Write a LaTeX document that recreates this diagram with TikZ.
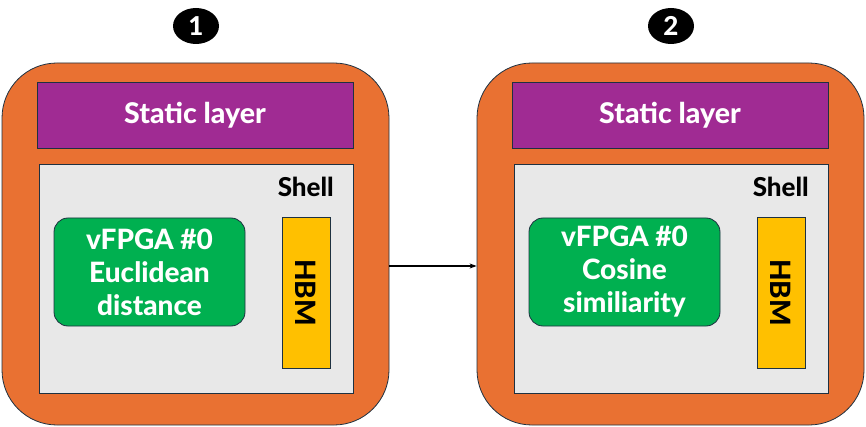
\documentclass[tikz,border=0pt]{standalone}
\usepackage{fontspec}
\setmainfont{Lato}[BoldFont={Lato Heavy}]
\usetikzlibrary{arrows.meta,shapes.geometric}
\definecolor{fpgaorange}{HTML}{E97132}
\definecolor{staticpurple}{HTML}{A02B93}
\definecolor{vfpgagreen}{HTML}{00B050}
\definecolor{hbmyellow}{HTML}{FFC000}
\definecolor{shellgray}{HTML}{E8E8E8}
\definecolor{edgeblue}{HTML}{1E3141}
\begin{document}
\begin{tikzpicture}[x=1pt, y=-1pt,
  fpga/.style={draw=edgeblue, line width=0.8pt, fill=fpgaorange, rounded corners=55pt, minimum width=387pt, minimum height=362pt, inner sep=0pt},
  staticbox/.style={draw=edgeblue, line width=0.8pt, fill=staticpurple, minimum width=316pt, minimum height=66pt, inner sep=0pt, text=white, font=\fontsize{28.5}{30}\selectfont\bfseries},
  shellbox/.style={draw=edgeblue, line width=0.8pt, fill=shellgray, minimum width=314pt, minimum height=229pt, inner sep=0pt},
  shelltext/.style={anchor=east, inner sep=0pt, font=\fontsize{26}{28}\selectfont\bfseries},
  vfpga/.style={draw=edgeblue, line width=0.8pt, fill=vfpgagreen, rounded corners=14pt, minimum width=191pt, minimum height=108pt, inner sep=0pt, align=center, text=white, font=\fontsize{28}{33}\selectfont\bfseries},
  hbm/.style={draw=edgeblue, line width=0.6pt, fill=hbmyellow, minimum width=48pt, minimum height=151pt, inner sep=0pt},
  hbmtext/.style={rotate=-90, inner sep=0pt, font=\fontsize{28}{30}\selectfont\bfseries},
  stepnum/.style={ellipse, fill=black, minimum width=46pt, minimum height=36pt, inner sep=0pt, text=white, font=\fontsize{26}{28}\selectfont\bfseries}]
\useasboundingbox (0,0) rectangle (866,427);
\node[stepnum] (num1) at (196,26) {1};
\node[fpga] (fpga1) at (195.5,244) {};
\node[staticbox] (static1) at (195,115) {\raisebox{-3pt}{Static layer}};
\node[shellbox] (shell1) at (196,278.5) {};
\node[shelltext] (shelltxt1) at (334,187) {Shell};
\node[vfpga] (vfpga1) at (149.5,272) {vFPGA \#0\\Euclidean\\distance};
\node[hbm] (hbm1) at (306,292.5) {};
\node[hbmtext] (hbmtxt1) at (hbm1.center) {HBM};
\node[stepnum] (num2) at (671,26) {2};
\node[fpga] (fpga2) at (670.5,244) {};
\node[staticbox] (static2) at (670,115) {\raisebox{-3pt}{Static layer}};
\node[shellbox] (shell2) at (671,278.5) {};
\node[shelltext] (shelltxt2) at (809,187) {Shell};
\node[vfpga] (vfpga2) at (624.5,272) {vFPGA \#0\\Cosine\\similiarity};
\node[hbm] (hbm2) at (781,292.5) {};
\node[hbmtext] (hbmtxt2) at (hbm2.center) {HBM};
\draw[-{Stealth[length=7pt,width=5pt]}, line width=1.4pt] ([yshift=-22pt]fpga1.east) -- ([yshift=-22pt]fpga2.west);
\end{tikzpicture}
\end{document}
